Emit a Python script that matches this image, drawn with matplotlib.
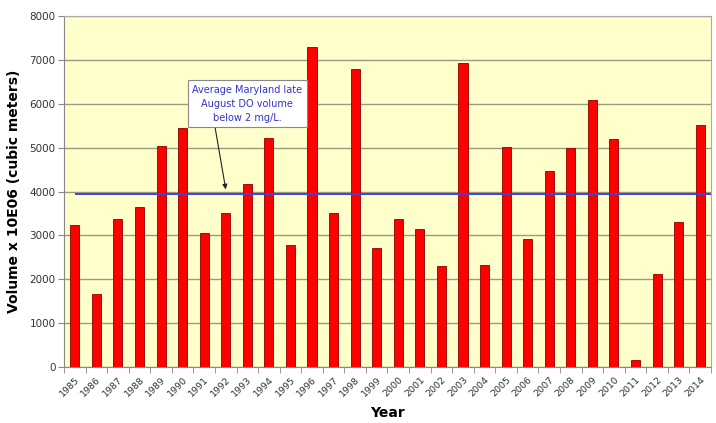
import numpy as np
import matplotlib
matplotlib.use("Agg")
import matplotlib.pyplot as plt

# data
years = [str(y) for y in range(1985, 2015)]
volume = [3230, 1660, 3380, 3640, 5030, 5440, 3050, 3510, 4170, 5220,
          2780, 7290, 3510, 6790, 2710, 3370, 3140, 2300, 6920, 2320,
          5010, 2920, 4460, 4990, 6080, 5190, 160, 2120, 3300, 5510]
average = 3950
yticks = list(range(0, 8001, 1000))

BG = '#FFFFCC'
GRID = '#9A9A80'

fig = plt.figure(figsize=(7.16, 4.23), dpi=100)
fig.patch.set_facecolor('white')
ax = fig.add_axes([0.0894, 0.1324, 0.9036, 0.8296])
ax.set_facecolor(BG)

x = np.arange(len(years))
ax.bar(x, volume, width=0.42, color='#FF0000', edgecolor='#8B0000',
       linewidth=0.6, zorder=3)
ax.hlines(average, 0, len(years) - 0.5, color='#4040E0', linewidth=1.4, zorder=4)

ax.set_xlim(-0.5, len(years) - 0.5)
ax.set_ylim(yticks[0], yticks[-1])
ax.set_yticks(yticks)
ax.set_yticklabels([str(v) for v in yticks], fontsize=7.5, color='#333333')
ax.yaxis.grid(True, color=GRID, linewidth=1.0, zorder=1)
ax.set_axisbelow(True)

ax.set_xticks(x)
ax.set_xticklabels(years, rotation=45, ha='right', va='top', fontsize=6.8,
                   color='#333333', rotation_mode='anchor')
ax.tick_params(axis='x', length=0, pad=6)
ax.tick_params(axis='y', length=4, color='#888888', pad=2)
# minor tick marks between categories
ax.set_xticks(np.arange(-0.5, len(years), 1), minor=True)
ax.tick_params(axis='x', which='minor', length=4, color='#888888')

for side in ['top', 'right']:
    ax.spines[side].set_color('#AAAAAA')
    ax.spines[side].set_linewidth(0.8)
for side in ['left', 'bottom']:
    ax.spines[side].set_color('#888888')
    ax.spines[side].set_linewidth(0.8)

ax.set_ylabel('Volume x 10E06 (cubic meters)', fontsize=10, fontweight='bold',
              labelpad=6)
ax.set_xlabel('Year', fontsize=10, fontweight='bold', labelpad=5)

# callout for the average line
ax.annotate('Average Maryland late\nAugust DO volume\nbelow 2 mg/L.',
            xy=(7.0, average + 100), xytext=(8.0, 6000),
            fontsize=7, color='#3333CC', ha='center', va='center',
            linespacing=1.5,
            bbox=dict(boxstyle='square,pad=0.45', facecolor='white',
                      edgecolor='#888888', linewidth=0.8),
            arrowprops=dict(arrowstyle='-|>', color='#222222', lw=0.8,
                            shrinkA=0, shrinkB=0,
                            relpos=(0.2, 0.0)),
            zorder=5)

fig.savefig('out.png', dpi=100)
